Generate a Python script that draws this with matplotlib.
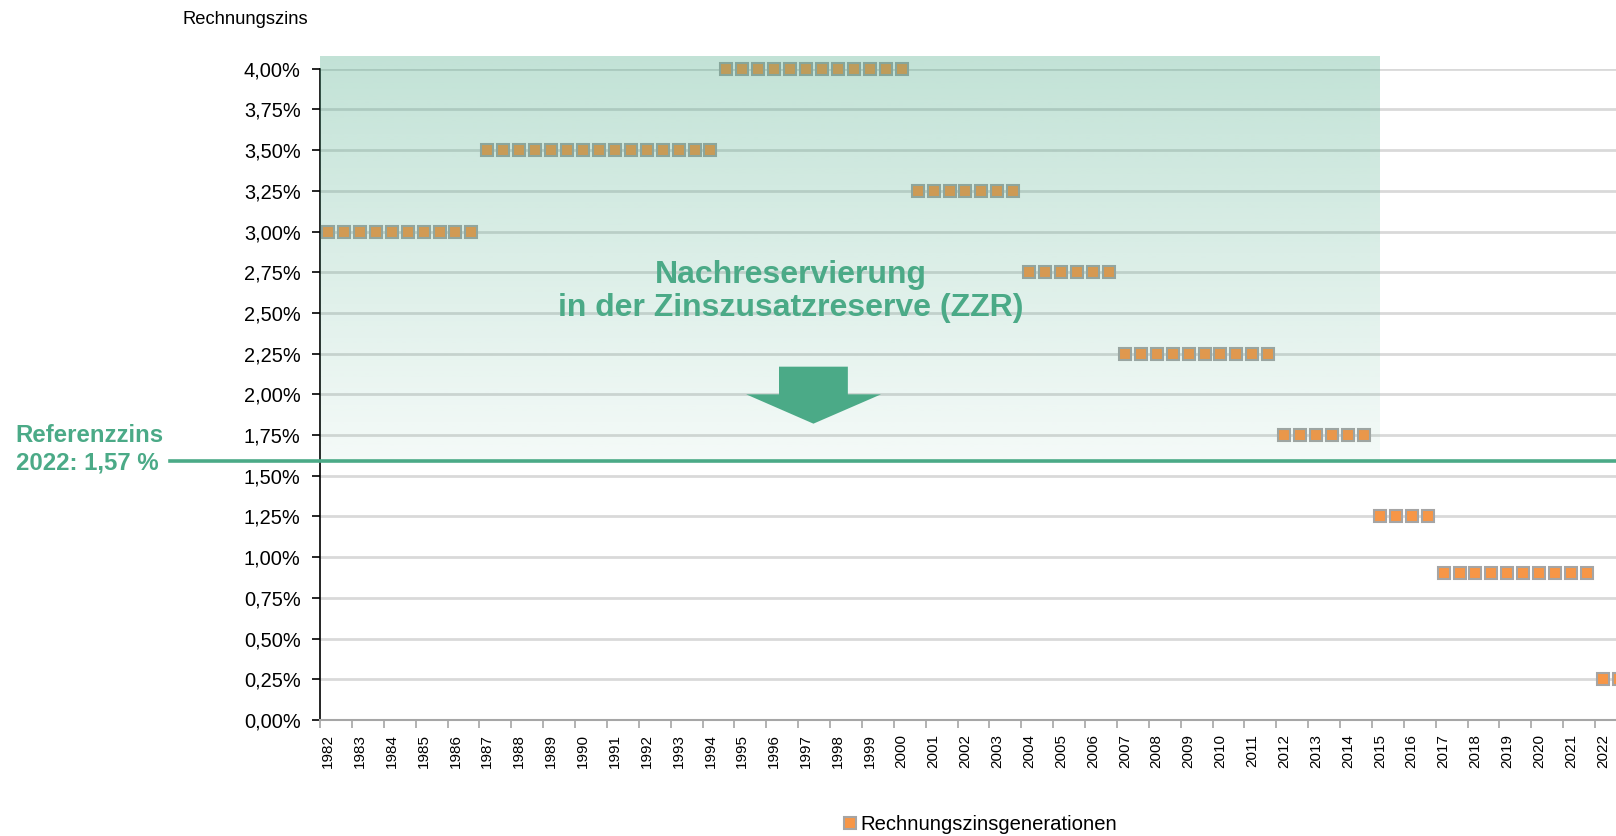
import numpy as np
import matplotlib
matplotlib.use("Agg")
import matplotlib.pyplot as plt
from matplotlib.patches import Polygon

plt.rcParams['font.family'] = ['Liberation Sans', 'DejaVu Sans']

# Rechnungszinsgenerationen (halbjährliche Punkte): Beginn, Ende, Zins in %
gen_beginn = [1982.25, 1987.25, 1994.75, 2000.75, 2004.25, 2007.25, 2012.25, 2015.25, 2017.25, 2022.25]
gen_ende = [1986.75, 1994.25, 2000.25, 2003.75, 2006.75, 2011.75, 2014.75, 2016.75, 2021.75, 2022.75]
gen_zins = [3.00, 3.50, 4.00, 3.25, 2.75, 2.25, 1.75, 1.25, 0.90, 0.25]

jahre = list(range(1982, 2023))
y_ticks = [0.25 * i for i in range(17)]
referenzzins = 1.59   # Lage der Linie im Bild (Beschriftung 1,57 %)

gruen = '#4BAA87'
orange = '#F79646'

x_pkt, y_pkt = [], []
for b, e, z in zip(gen_beginn, gen_ende, gen_zins):
    xs = np.arange(b, e + 0.01, 0.5)
    x_pkt += list(xs)
    y_pkt += [z] * len(xs)

W, H = 1616, 836
fig = plt.figure(figsize=(W / 100, H / 100), dpi=100)
# Achse: links bei x=320px, 0% bei y=720px, 4% bei y=68.7px
px_jahr = 31.875
x_max = 2023
ax = fig.add_axes([320 / W, (H - 720) / H, (x_max - 1982) * px_jahr / W, (720 - 68.7) / H])

ax.plot(x_pkt, y_pkt, 's', ms=8.5, mfc=orange, mec='#A5A5A5', mew=1.5, zorder=3,
        label='Rechnungszinsgenerationen', clip_on=False)

# Verlauf (Nachreservierung) über den Punkten
grad = np.zeros((256, 1, 4))
grad[..., :3] = matplotlib.colors.to_rgb(gruen)
grad[..., 3] = np.linspace(0.34, 0.06, 256)[:, None]
im = ax.imshow(grad, extent=(1982, 2015.25, referenzzins, 4.077), aspect='auto',
               origin='upper', interpolation='bilinear', zorder=4)
im.set_clip_on(False)

# Pfeil
pfeil = Polygon([(1996.4, 2.17), (1998.56, 2.17), (1998.56, 2.0), (1999.6, 2.0),
                 (1997.48, 1.82), (1995.37, 2.0), (1996.4, 2.0)],
                closed=True, color=gruen, lw=0, zorder=5)
ax.add_patch(pfeil)

# Referenzzinslinie
ax.plot([1982 + (170 - 320) / px_jahr, x_max], [referenzzins, referenzzins],
        color=gruen, lw=2.6, zorder=6, clip_on=False)

ax.set_xlim(1982, x_max)
ax.set_ylim(0, 4.0)

ax.set_yticks(y_ticks)
ax.set_yticklabels([f"{v:.2f}".replace('.', ',') + '%' for v in y_ticks])
ax.tick_params(axis='y', length=6, width=1.2, color='black', labelsize=14.4, pad=8)
ax.yaxis.grid(True, color='#D9D9D9', lw=2)
ax.set_axisbelow(True)

ax.set_xticks(jahre)
ax.set_xticklabels([])
ax.tick_params(axis='x', which='major', length=6, width=1.2, color='#A6A6A6')
ax.set_xticks([j + 0.25 for j in jahre], minor=True)
ax.set_xticklabels([str(j) for j in jahre], minor=True, rotation=90, fontsize=11)
ax.tick_params(axis='x', which='minor', length=0, pad=10)

for s in ['top', 'right']:
    ax.spines[s].set_visible(False)
ax.spines['left'].set_color('black')
ax.spines['left'].set_linewidth(1.2)
ax.spines['bottom'].set_color('#A6A6A6')
ax.spines['bottom'].set_linewidth(1.5)

ax.text(1996.76, 2.632, 'Nachreservierung\nin der Zinszusatzreserve (ZZR)', ha='center',
        va='center', fontsize=23, fontweight='bold', color=gruen, zorder=7,
        linespacing=1.15)

fig.text(15.5 / W, 1 - 449.5 / H, 'Referenzzins\n2022: 1,57 %', ha='left', va='center',
         fontsize=17.3, fontweight='bold', color=gruen, linespacing=1.25)

fig.text(182.7 / W, 1 - 20 / H, 'Rechnungszins', ha='left', va='center', fontsize=13.2)

fig.legend(loc='center', bbox_to_anchor=(980 / W, 1 - 825 / H), frameon=False,
           fontsize=14.6, handlelength=0.7, handletextpad=0.2, markerscale=1.0)

fig.savefig('out.png', dpi=100)
